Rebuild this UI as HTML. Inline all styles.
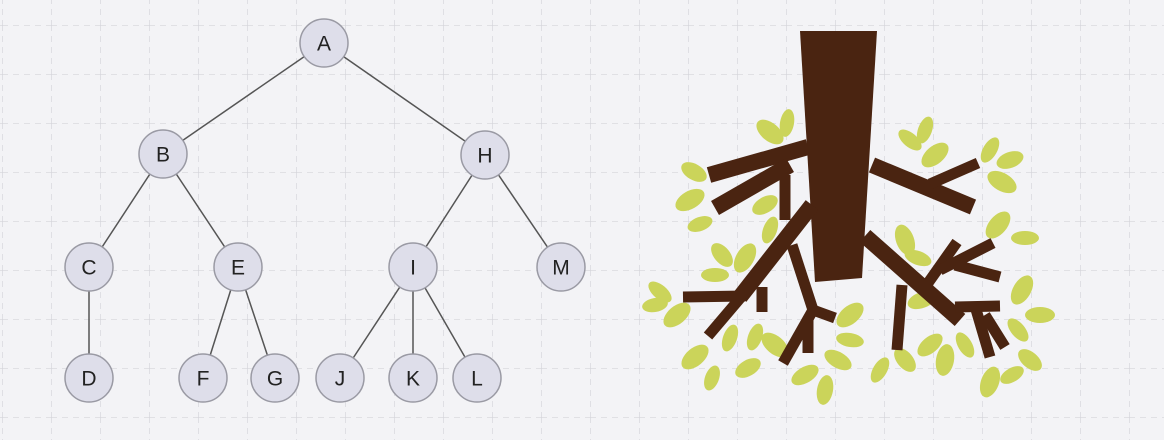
<!DOCTYPE html>
<html><head><style>
html,body{margin:0;padding:0;background:#f3f3f6;}
svg{display:block}
text{font-family:"Liberation Sans",sans-serif;font-size:21px;fill:#222;text-anchor:middle;dominant-baseline:central}
</style></head><body>
<svg width="1164" height="440" viewBox="0 0 1164 440">
<defs>
<pattern id="g" x="2" y="25" width="49" height="49" patternUnits="userSpaceOnUse">
<path d="M0 0H49M0 0V49" stroke="#d4d4da" stroke-width="1.3" stroke-dasharray="6 5" fill="none"/>
</pattern>
</defs>
<rect width="1164" height="440" fill="#f3f3f6"/>
<rect width="1164" height="440" fill="url(#g)"/>
<g stroke="#555" stroke-width="1.5">
<line x1="324" y1="43" x2="163" y2="154"/><line x1="324" y1="43" x2="485" y2="155"/>
<line x1="163" y1="154" x2="89" y2="267"/><line x1="163" y1="154" x2="238" y2="267"/>
<line x1="485" y1="155" x2="413" y2="267"/><line x1="485" y1="155" x2="561" y2="267"/>
<line x1="89" y1="267" x2="89" y2="378"/>
<line x1="238" y1="267" x2="203" y2="378"/><line x1="238" y1="267" x2="275" y2="378"/>
<line x1="413" y1="267" x2="340" y2="378"/><line x1="413" y1="267" x2="413" y2="378"/><line x1="413" y1="267" x2="477" y2="378"/>
</g>
<g fill="#dedeea" stroke="#9a9aa4" stroke-width="1.5">
<circle cx="324" cy="43" r="24"/><circle cx="163" cy="154" r="24"/><circle cx="485" cy="155" r="24"/>
<circle cx="89" cy="267" r="24"/><circle cx="238" cy="267" r="24"/><circle cx="413" cy="267" r="24"/><circle cx="561" cy="267" r="24"/>
<circle cx="89" cy="378" r="24"/><circle cx="203" cy="378" r="24"/><circle cx="275" cy="378" r="24"/>
<circle cx="340" cy="378" r="24"/><circle cx="413" cy="378" r="24"/><circle cx="477" cy="378" r="24"/>
</g>
<text x="324" y="44">A</text><text x="163" y="155">B</text><text x="485" y="156">H</text>
<text x="89" y="268">C</text><text x="238" y="268">E</text><text x="413" y="268">I</text><text x="561" y="268">M</text>
<text x="89" y="379">D</text><text x="203" y="379">F</text><text x="275" y="379">G</text>
<text x="340" y="379">J</text><text x="413" y="379">K</text><text x="477" y="379">L</text>

<g fill="#cbd45a">
<ellipse cx="770" cy="132" rx="16" ry="9" transform="rotate(40 770 132)"/>
<ellipse cx="787" cy="123" rx="14" ry="7" transform="rotate(-80 787 123)"/>
<ellipse cx="694" cy="172" rx="14" ry="8" transform="rotate(30 694 172)"/>
<ellipse cx="690" cy="200" rx="16" ry="9" transform="rotate(-30 690 200)"/>
<ellipse cx="700" cy="224" rx="13" ry="7" transform="rotate(-20 700 224)"/>
<ellipse cx="765" cy="205" rx="14" ry="8" transform="rotate(-30 765 205)"/>
<ellipse cx="770" cy="230" rx="14" ry="7" transform="rotate(-70 770 230)"/>
<ellipse cx="722" cy="255" rx="14" ry="8" transform="rotate(50 722 255)"/>
<ellipse cx="745" cy="258" rx="16" ry="9" transform="rotate(-60 745 258)"/>
<ellipse cx="715" cy="275" rx="14" ry="7" transform="rotate(0 715 275)"/>
<ellipse cx="660" cy="292" rx="14" ry="7" transform="rotate(40 660 292)"/>
<ellipse cx="655" cy="305" rx="13" ry="7" transform="rotate(-10 655 305)"/>
<ellipse cx="677" cy="315" rx="16" ry="9" transform="rotate(-40 677 315)"/>
<ellipse cx="695" cy="357" rx="16" ry="9" transform="rotate(-40 695 357)"/>
<ellipse cx="712" cy="378" rx="13" ry="7" transform="rotate(-70 712 378)"/>
<ellipse cx="730" cy="338" rx="14" ry="7" transform="rotate(-70 730 338)"/>
<ellipse cx="755" cy="337" rx="14" ry="7" transform="rotate(-70 755 337)"/>
<ellipse cx="748" cy="368" rx="14" ry="8" transform="rotate(-30 748 368)"/>
<ellipse cx="775" cy="345" rx="16" ry="9" transform="rotate(40 775 345)"/>
<ellipse cx="805" cy="375" rx="15" ry="8" transform="rotate(-30 805 375)"/>
<ellipse cx="825" cy="390" rx="15" ry="8" transform="rotate(-80 825 390)"/>
<ellipse cx="838" cy="360" rx="15" ry="8" transform="rotate(30 838 360)"/>
<ellipse cx="850" cy="315" rx="16" ry="9" transform="rotate(-40 850 315)"/>
<ellipse cx="850" cy="340" rx="14" ry="7" transform="rotate(10 850 340)"/>
<ellipse cx="880" cy="370" rx="14" ry="7" transform="rotate(-60 880 370)"/>
<ellipse cx="905" cy="360" rx="14" ry="8" transform="rotate(50 905 360)"/>
<ellipse cx="930" cy="345" rx="15" ry="8" transform="rotate(-40 930 345)"/>
<ellipse cx="922" cy="300" rx="15" ry="8" transform="rotate(-20 922 300)"/>
<ellipse cx="945" cy="360" rx="16" ry="9" transform="rotate(-80 945 360)"/>
<ellipse cx="905" cy="240" rx="16" ry="9" transform="rotate(70 905 240)"/>
<ellipse cx="918" cy="258" rx="14" ry="7" transform="rotate(20 918 258)"/>
<ellipse cx="910" cy="140" rx="14" ry="7" transform="rotate(40 910 140)"/>
<ellipse cx="925" cy="130" rx="14" ry="7" transform="rotate(-70 925 130)"/>
<ellipse cx="935" cy="155" rx="16" ry="9" transform="rotate(-40 935 155)"/>
<ellipse cx="990" cy="150" rx="14" ry="7" transform="rotate(-60 990 150)"/>
<ellipse cx="1010" cy="160" rx="14" ry="8" transform="rotate(-20 1010 160)"/>
<ellipse cx="1002" cy="182" rx="16" ry="9" transform="rotate(30 1002 182)"/>
<ellipse cx="998" cy="225" rx="16" ry="9" transform="rotate(-50 998 225)"/>
<ellipse cx="1025" cy="238" rx="14" ry="7" transform="rotate(0 1025 238)"/>
<ellipse cx="1022" cy="290" rx="16" ry="9" transform="rotate(-60 1022 290)"/>
<ellipse cx="1040" cy="315" rx="15" ry="8" transform="rotate(0 1040 315)"/>
<ellipse cx="1018" cy="330" rx="14" ry="7" transform="rotate(50 1018 330)"/>
<ellipse cx="1030" cy="360" rx="14" ry="8" transform="rotate(40 1030 360)"/>
<ellipse cx="990" cy="382" rx="16" ry="9" transform="rotate(-70 990 382)"/>
<ellipse cx="1012" cy="375" rx="13" ry="7" transform="rotate(-30 1012 375)"/>
<ellipse cx="965" cy="345" rx="14" ry="7" transform="rotate(60 965 345)"/>
</g>
<g fill="#4a2411" stroke="#4a2411" stroke-linecap="butt">
<polygon points="800,31 877,31 862,278 815,282" stroke="none"/>
<g stroke-width="16" fill="none">
<line x1="808" y1="147" x2="709" y2="175"/>
<line x1="790" y1="165" x2="715" y2="208"/>
<line x1="872" y1="165" x2="973" y2="207"/>
<line x1="812" y1="205" x2="740" y2="297"/>
<line x1="865" y1="236" x2="960" y2="320"/>
</g>
<g stroke-width="11" fill="none">
<line x1="785" y1="175" x2="785" y2="220"/>
<line x1="930" y1="184" x2="978" y2="163"/>
<line x1="745" y1="296" x2="683" y2="297"/>
<line x1="742" y1="296" x2="708" y2="336"/>
<line x1="762" y1="287" x2="762" y2="312"/>
<line x1="792" y1="245" x2="813" y2="310"/>
<line x1="813" y1="310" x2="783" y2="363"/>
<line x1="813" y1="310" x2="835" y2="318"/>
<line x1="808" y1="320" x2="808" y2="353"/>
<line x1="902" y1="285" x2="897" y2="350"/>
<line x1="928" y1="283" x2="957" y2="242"/>
<line x1="940" y1="270" x2="993" y2="243"/>
<line x1="955" y1="265" x2="1000" y2="277"/>
<line x1="955" y1="307" x2="1000" y2="306"/>
<line x1="975" y1="306" x2="990" y2="357"/>
<line x1="985" y1="315" x2="1005" y2="347"/>
</g>
</g>
</svg>
</body></html>
